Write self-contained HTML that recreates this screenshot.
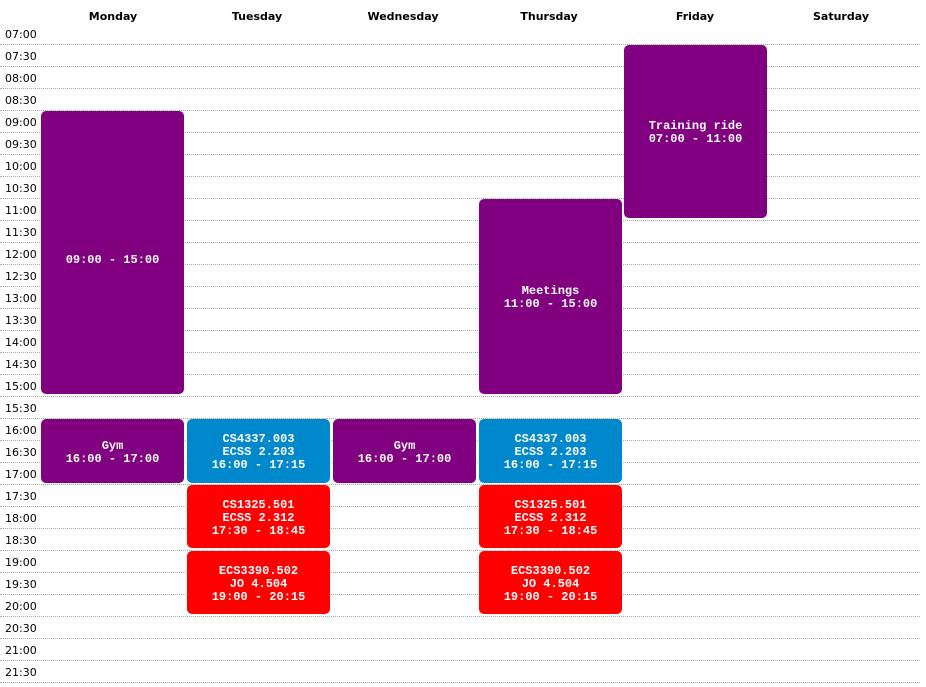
<!DOCTYPE html>
<html><head><style>
body{margin:0;width:926px;height:687px;background:#fff;position:relative;overflow:hidden;font-family:"DejaVu Sans","Liberation Sans",sans-serif}
.h{position:absolute;top:10px;width:146px;text-align:center;font-size:11px;font-weight:bold;color:#000}
.t{position:absolute;left:5px;font-size:11px;color:#000;line-height:13px}
.l{position:absolute;left:0;width:920px;border-top:1px dotted #aaa;height:0}
.e{position:absolute;width:143px;border-radius:5px;color:#fff;font-family:"Liberation Mono",monospace;font-weight:bold;font-size:12px;line-height:13px;text-align:center;display:flex;flex-direction:column;justify-content:center;box-sizing:border-box;padding-top:3px}
.p{background:#800080}.b{background:#0088cc}.r{background:#ff0000}
</style></head><body>
<div class="h" style="left:40px">Monday</div>
<div class="h" style="left:184px">Tuesday</div>
<div class="h" style="left:330px">Wednesday</div>
<div class="h" style="left:476px">Thursday</div>
<div class="h" style="left:622px">Friday</div>
<div class="h" style="left:768px">Saturday</div>
<div id="g"></div>
<script>
var s='',n=0;for(var h=7;h<22;h++){for(var m=0;m<60;m+=30){var y=22+22*n;var lab=(h<10?'0':'')+h+':'+(m?'30':'00');s+='<div class="t" style="top:'+(y+6)+'px">'+lab+'</div><div class="l" style="top:'+(y+22)+'px"></div>';n++;}}
document.getElementById('g').innerHTML=s;
</script>
<div class="e p" style="left:41px;top:111px;height:283px"><div>&nbsp;</div><div>09:00 - 15:00</div></div>
<div class="e p" style="left:479px;top:199px;height:195px"><div>Meetings</div><div>11:00 - 15:00</div></div>
<div class="e p" style="left:624px;top:45px;height:173px"><div>Training ride</div><div>07:00 - 11:00</div></div>
<div class="e p" style="left:41px;top:419px;height:64px"><div>Gym</div><div>16:00 - 17:00</div></div>
<div class="e p" style="left:333px;top:419px;height:64px"><div>Gym</div><div>16:00 - 17:00</div></div>
<div class="e b" style="left:187px;top:419px;height:64px"><div>CS4337.003</div><div>ECSS 2.203</div><div>16:00 - 17:15</div></div>
<div class="e b" style="left:479px;top:419px;height:64px"><div>CS4337.003</div><div>ECSS 2.203</div><div>16:00 - 17:15</div></div>
<div class="e r" style="left:187px;top:485px;height:63px"><div>CS1325.501</div><div>ECSS 2.312</div><div>17:30 - 18:45</div></div>
<div class="e r" style="left:479px;top:485px;height:63px"><div>CS1325.501</div><div>ECSS 2.312</div><div>17:30 - 18:45</div></div>
<div class="e r" style="left:187px;top:551px;height:63px"><div>ECS3390.502</div><div>JO 4.504</div><div>19:00 - 20:15</div></div>
<div class="e r" style="left:479px;top:551px;height:63px"><div>ECS3390.502</div><div>JO 4.504</div><div>19:00 - 20:15</div></div>
</body></html>
